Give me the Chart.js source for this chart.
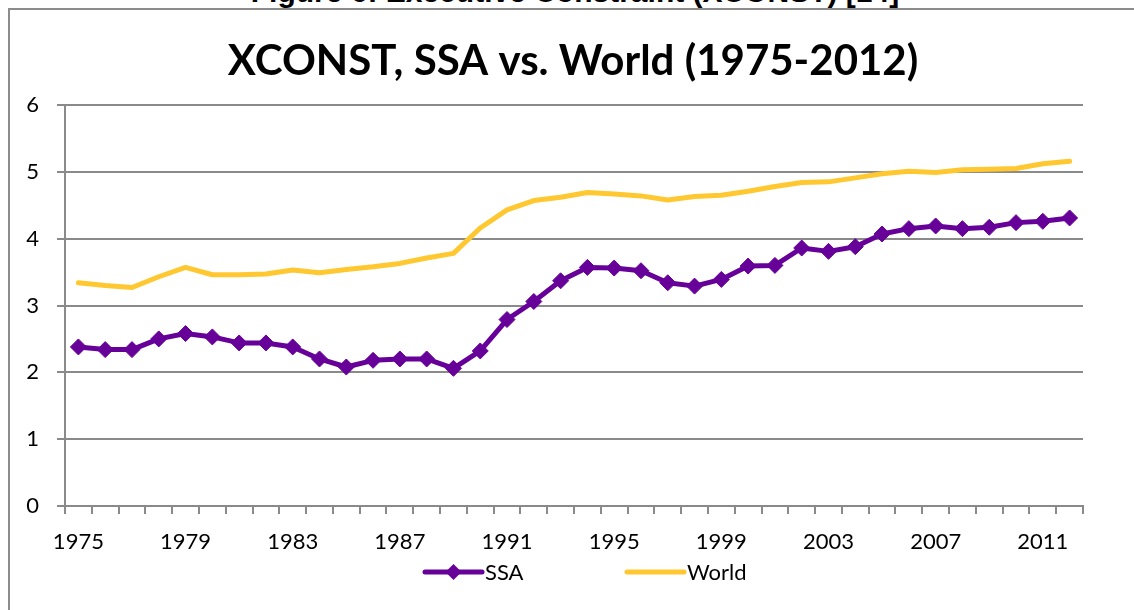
<!DOCTYPE html>
<html><head><meta charset="utf-8">
<script src="https://cdn.jsdelivr.net/npm/chart.js@4.4.0/dist/chart.umd.min.js"></script>
<style>
html,body{margin:0;padding:0;background:#fff;width:1134px;height:610px;overflow:hidden;}
#wrap{position:relative;width:1134px;height:610px;}
#hdr{position:absolute;left:0;width:1150px;text-align:center;top:-23px;font:bold 30px "Liberation Sans",Arial,sans-serif;line-height:30px;color:#000;white-space:nowrap;}
#frame{position:absolute;left:8px;top:8px;width:1140px;height:620px;border-left:2px solid #8c8c8c;border-top:2px solid #8c8c8c;box-sizing:border-box;}
canvas{position:absolute;left:0;top:0;}
</style></head>
<body>
<div id="wrap">
<div id="hdr">Figure 6: Executive Constraint (XCONST) [14]</div>
<div id="frame"></div>
<canvas id="c" width="1134" height="610"></canvas>
</div>
<script>
const years = ["1975","1976","1977","1978","1979","1980","1981","1982","1983","1984",
  "1985","1986","1987","1988","1989","1990","1991","1992","1993","1994",
  "1995","1996","1997","1998","1999","2000","2001","2002","2003","2004",
  "2005","2006","2007","2008","2009","2010","2011","2012"];
const ssa = [2.38,2.34,2.34,2.50,2.58,2.53,2.44,2.44,2.38,2.20,
  2.08,2.18,2.20,2.20,2.06,2.32,2.79,3.06,3.37,3.57,
  3.56,3.52,3.34,3.29,3.39,3.59,3.60,3.86,3.81,3.88,
  4.07,4.15,4.19,4.15,4.17,4.24,4.26,4.31];
const world = [3.34,3.30,3.27,3.43,3.57,3.46,3.46,3.47,3.53,3.49,
  3.54,3.58,3.63,3.71,3.78,4.16,4.43,4.57,4.62,4.69,
  4.67,4.64,4.58,4.63,4.65,4.71,4.78,4.84,4.85,4.91,
  4.97,5.01,4.99,5.03,5.04,5.05,5.12,5.16];
const seriesNames = ["SSA","World"];
const seriesColors = ["#660099","#FFC830"];
const titleText = "XCONST, SSA vs. World (1975-2012)";
const labelEvery = 4;

const FONT = "Lato";
const titlePlugin = {
  id: 'xlTitle',
  afterDraw(chart) {
    const ctx = chart.ctx;
    ctx.save();
    ctx.font = "bold 42px " + FONT;
    ctx.fillStyle = '#000';
    ctx.textAlign = 'center';
    ctx.textBaseline = 'alphabetic';
    ctx.fillText(titleText, 573, 75);
    ctx.restore();
  }
};
const legendPlugin = {
  id: 'xlLegend',
  afterDraw(chart) {
    const ctx = chart.ctx;
    const y = 572, startX = 425, slot = 202, lineLen = 57;
    ctx.save();
    ctx.font = "22px " + FONT;
    ctx.textBaseline = 'middle';
    ctx.textAlign = 'left';
    chart.data.datasets.forEach((ds, i) => {
      const x0 = startX + i * slot;
      ctx.strokeStyle = ds.borderColor;
      ctx.lineWidth = 5;
      ctx.lineCap = 'round';
      ctx.beginPath();
      ctx.moveTo(x0, y); ctx.lineTo(x0 + lineLen, y);
      ctx.stroke();
      if (ds.pointRadius > 0) {
        const r = ds.pointRadius;
        const cx = x0 + lineLen / 2;
        ctx.fillStyle = ds.backgroundColor;
        ctx.beginPath();
        ctx.moveTo(cx - r, y); ctx.lineTo(cx, y - r); ctx.lineTo(cx + r, y); ctx.lineTo(cx, y + r);
        ctx.closePath(); ctx.fill();
      }
      ctx.fillStyle = '#000';
      ctx.fillText(ds.label, x0 + lineLen + 3, y + 1);
    });
    ctx.restore();
  }
};

new Chart(document.getElementById('c'), {
  type: 'line',
  data: {
    labels: years,
    datasets: [
      { label: seriesNames[0], data: ssa, borderColor: seriesColors[0], backgroundColor: seriesColors[0],
        borderWidth: 5, pointStyle: 'rectRot', pointRadius: 8, pointBorderWidth: 1,
        pointBorderColor: seriesColors[0], borderJoinStyle: 'round', tension: 0 },
      { label: seriesNames[1], data: world, borderColor: seriesColors[1], backgroundColor: seriesColors[1],
        borderWidth: 5, pointRadius: 0, borderJoinStyle: 'round', borderCapStyle: 'round', tension: 0 }
    ]
  },
  options: {
    responsive: false,
    animation: false,
    layout: { padding: { left: 0, right: 51, top: 105, bottom: 0 } },
    plugins: {
      legend: { display: false },
      tooltip: { enabled: false },
      title: { display: false }
    },
    scales: {
      x: {
        offset: true,
        grid: { offset: true, drawOnChartArea: false, drawTicks: true, tickLength: 8, color: '#8a8a8a', lineWidth: 2 },
        border: { color: '#8a8a8a', width: 2 },
        ticks: { autoSkip: false, maxRotation: 0, minRotation: 0, color: '#000', padding: 15,
          font: { family: FONT, size: 22 },
          callback: (v, i) => (i % labelEvery === 0 ? years[i] : '') },
        afterFit: s => { s.height = 104; }
      },
      y: {
        min: 0, max: 6,
        ticks: { stepSize: 1, color: '#000', padding: 18, font: { family: FONT, size: 22 } },
        grid: { color: '#8a8a8a', lineWidth: 2, tickLength: 8 },
        border: { color: '#8a8a8a', width: 2 },
        afterFit: s => { s.width = 65; }
      }
    }
  },
  plugins: [titlePlugin, legendPlugin]
});
</script>
</body></html>
